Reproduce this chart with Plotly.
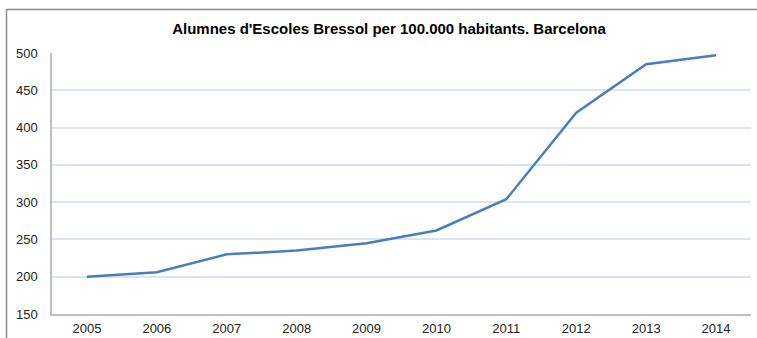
import plotly.graph_objects as go

years = ["2005", "2006", "2007", "2008", "2009", "2010", "2011", "2012", "2013", "2014"]
values = [200, 206, 230, 235, 245, 262, 304, 420, 485, 497]
y_ticks = [150, 200, 250, 300, 350, 400, 450, 500]
title = "Alumnes d'Escoles Bressol per 100.000 habitants. Barcelona"

fig = go.Figure()
fig.add_trace(go.Scatter(
    x=years, y=values, mode="lines",
    line=dict(color="#4a7ebb", width=2.5),
    showlegend=False, hoverinfo="x+y",
))

W, H = 757, 338
l, r, t, b = 52, 6, 53, 24
pw, ph = W - l - r, H - t - b

def px_to_paper_x(px):
    return (px - l) / pw

def px_to_paper_y(py):
    return (H - b - py) / ph

fig.add_shape(type="line", xref="paper", yref="paper",
              x0=px_to_paper_x(6.5), x1=px_to_paper_x(6.5),
              y0=px_to_paper_y(340), y1=px_to_paper_y(9),
              line=dict(color="#8c8c8c", width=1.5), layer="above")
fig.add_shape(type="line", xref="paper", yref="paper",
              x0=px_to_paper_x(6), x1=px_to_paper_x(760),
              y0=px_to_paper_y(9.5), y1=px_to_paper_y(9.5),
              line=dict(color="#8c8c8c", width=1.5), layer="above")

fig.update_layout(
    width=W, height=H,
    margin=dict(l=l, r=r, t=t, b=b, autoexpand=False),
    paper_bgcolor="white", plot_bgcolor="white",
    title=dict(text="<b>" + title + "</b>", x=px_to_paper_x(389), xanchor="center",
               xref="paper", y=(H - 29) / H, yanchor="middle",
               font=dict(family="Liberation Sans, Arial, sans-serif", size=15, color="#000000")),
    font=dict(family="Liberation Sans, Arial, sans-serif", size=12, color="#333333"),
)
fig.update_xaxes(type="category", range=[-0.5, 9.5], showgrid=False, automargin=False,
                 showline=True, linecolor="#bfbfbf", linewidth=1.5,
                 ticks="", tickfont=dict(size=13, color="#222222"), ticklabelstandoff=2)
fig.update_yaxes(range=[150, 500], tickvals=y_ticks, showgrid=True, automargin=False,
                 gridcolor="#dbe5f1", gridwidth=1.5, zeroline=False,
                 showline=True, linecolor="#bfbfbf", linewidth=1.5,
                 ticks="", tickfont=dict(size=13, color="#222222"), ticklabelstandoff=10)

fig.write_html("out.html", config={"displayModeBar": False},
               post_script="document.body.style.margin='0';document.body.style.overflow='hidden';")
